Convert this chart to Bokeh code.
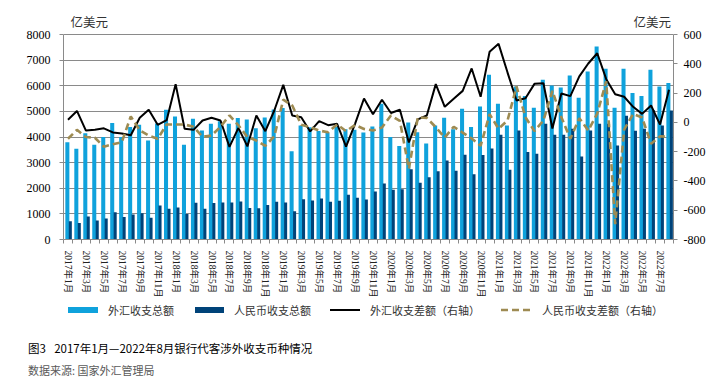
from bokeh.plotting import figure
from bokeh.models import (Range1d, LinearAxis, FixedTicker, Label, ColumnDataSource, Div)
from bokeh.layouts import column
from bokeh.transform import dodge
from bokeh.embed import file_html
from bokeh.resources import INLINE

# ---------------- data ----------------
years = [2017, 2018, 2019, 2020, 2021, 2022]
month_labels = [f"{y}年{m}月" for y in years for m in range(1, 13)][:68]

fx_total = [3800, 3540, 4150, 3700, 4000, 4550, 4000, 4390, 4480, 3860, 4530, 5060,
            4800, 3700, 4710, 4250, 4520, 4610, 4520, 4740, 4680, 4345, 4760, 5070,
            5130, 3440, 4450, 4380, 4230, 4170, 4400, 4300, 4280, 4180, 4410, 5300,
            4000, 3650, 4570, 4190, 3750, 4450, 4750, 4300, 5100, 4390, 5190, 6430,
            5300, 4450, 5970, 5600, 5140, 6230, 6010, 5930, 6400, 5530, 6560, 7530,
            6660, 5140, 6660, 5720, 5600, 6620, 5970, 6110]

rmb_total = [710, 640, 900, 745, 820, 1066, 875, 975, 1025, 848, 1325, 1198,
             1250, 1000, 1432, 1200, 1420, 1440, 1444, 1480, 1230, 1223, 1345, 1475,
             1440, 1100, 1570, 1522, 1600, 1478, 1509, 1750, 1626, 1561, 1873, 2190,
             1938, 1958, 2740, 2218, 2432, 2666, 3083, 2680, 3310, 2550, 3298, 3550,
             4090, 2718, 4254, 3415, 3343, 4520, 4085, 4085, 4320, 3239, 4254, 4514,
             4514, 3668, 4826, 4240, 4320, 5047, 4449, 5034]

fx_balance = [18, 78, -56, -50, -41, -69, -76, -88, 31, 86, -17, 15,
              261, -44, -51, 13, 31, 13, -167, -38, -164, 47, -60, 81,
              256, 47, 35, -62, 8, -19, -10, -165, -10, 163, 55, 154,
              64, 86, -137, 20, 47, 261, 106, 161, 215, 368, 175, 482,
              536, 340, 149, 165, 263, 267, -42, 197, 179, 314, 402, 472,
              295, 192, 175, 106, 58, 115, -15, 222]

rmb_balance = [-112, -51, -100, -105, -166, -150, -135, 40, -54, -90, -112, -15,
               -15, -15, -30, -99, -90, -30, 47, -20, -100, -124, -160, -95,
               155, 115, -16, -33, -56, -68, -14, -60, -18, -45, -56, -35,
               47, 10, -317, 35, 30, -33, -104, -30, -70, -110, -160, 56,
               -44, 13, 245, 35, -60, 13, 215, 35, -112, 28, -56, 60,
               280, -695, -50, 58, 33, -146, -95, -99]

left_ticks = [0, 1000, 2000, 3000, 4000, 5000, 6000, 7000, 8000]
right_ticks = [-800, -600, -400, -200, 0, 200, 400, 600]

series_names = ["外汇收支总额", "人民币收支总额", "外汇收支差额（右轴）", "人民币收支差额（右轴）"]
unit_label = "亿美元"
title_text = "图3\u2002 2017年1月—2022年8月银行代客涉外收支币种情况"
source_text = "数据来源: 国家外汇管理局"

# ---------------- style / layout ----------------
LIGHT = "#0fa2dc"
DARK = "#004379"
OLIVE = "#9e8b52"
GRID = "#8a8a8a"
SERIF = "Liberation Serif, Noto Sans CJK SC"
CJK = "Noto Sans CJK SC"

W, H = 723, 384
FRAME_L, FRAME_R = 63, 673
AXIS_TOP, FRAME_B = 34, 239      # value axes span (page px)
FRAME_T = 10                     # frame extended upward to hold the unit labels
MAIN_H = 303                     # main figure height (frame + x axis)
extra_px = AXIS_TOP - FRAME_T
axis_px = FRAME_B - AXIS_TOP

left_lo, left_hi = left_ticks[0], left_ticks[-1]
right_lo, right_hi = right_ticks[0], right_ticks[-1]
left_end = left_hi + (left_hi - left_lo) / axis_px * extra_px
right_end = right_hi + (right_hi - right_lo) / axis_px * extra_px

N = len(fx_total)
src = ColumnDataSource(dict(x=list(range(N)), fx_total=fx_total, rmb_total=rmb_total,
                            fx_balance=fx_balance, rmb_balance=rmb_balance))

p = figure(width=W, height=MAIN_H, x_range=Range1d(-0.5, N - 0.5),
           y_range=Range1d(left_lo, left_end),
           output_backend="svg", toolbar_location=None,
           min_border_left=FRAME_L, min_border_right=W - FRAME_R,
           min_border_top=FRAME_T, min_border_bottom=MAIN_H - FRAME_B)
p.extra_y_ranges = {"right": Range1d(right_lo, right_end)}
p.outline_line_color = None
p.background_fill_color = "white"
p.border_fill_color = "white"

r_fx = p.vbar(x=dodge("x", -0.07, range=p.x_range), top="fx_total", width=0.45,
              fill_color=LIGHT, line_color=None, source=src)
r_rmb = p.vbar(x=dodge("x", 0.26, range=p.x_range), top="rmb_total", width=0.34,
               fill_color=DARK, line_color=None, source=src)
r_fxb = p.line("x", "fx_balance", y_range_name="right", line_color="black",
               line_width=2, source=src)
r_rmbb = p.line("x", "rmb_balance", y_range_name="right", line_color=OLIVE,
                line_width=2.6, line_dash="7 4", source=src)

# grid
p.xgrid.visible = False
p.ygrid.ticker = FixedTicker(ticks=left_ticks)
p.ygrid.grid_line_color = GRID
p.ygrid.grid_line_width = 1

# left axis
ya = p.yaxis[0]
ya.ticker = FixedTicker(ticks=left_ticks)
ya.bounds = (left_lo, left_hi)
ya.axis_line_color = GRID
ya.major_tick_line_color = GRID
ya.major_tick_out = 4
ya.major_tick_in = 0
ya.minor_tick_line_color = None
ya.major_label_standoff = 9
ya.major_label_text_font = SERIF
ya.major_label_text_font_size = "12px"
ya.major_label_text_color = "black"

# right axis
ra = LinearAxis(y_range_name="right", ticker=FixedTicker(ticks=right_ticks),
                major_label_overrides={t: str(t) for t in right_ticks},
                bounds=(right_lo, right_hi))
ra.axis_line_color = GRID
ra.major_tick_line_color = GRID
ra.major_tick_out = 4
ra.major_tick_in = 0
ra.minor_tick_line_color = None
ra.major_label_standoff = 6
ra.major_label_text_font = SERIF
ra.major_label_text_font_size = "12px"
ra.major_label_text_color = "black"
p.add_layout(ra, "right")

# bottom axis
xa = p.xaxis[0]
xa.ticker = FixedTicker(ticks=list(range(0, N, 2)),
                        minor_ticks=[i - 0.5 for i in range(N + 1)])
xa.major_label_overrides = {i: month_labels[i] for i in range(0, N, 2)}
xa.major_label_orientation = "vertical"
xa.axis_line_color = GRID
xa.major_tick_line_color = None
xa.major_tick_out = 0
xa.major_tick_in = 0
xa.minor_tick_line_color = GRID
xa.minor_tick_out = 4
xa.minor_tick_in = 0
xa.major_label_standoff = 7
xa.major_label_text_font = SERIF
xa.major_label_text_font_size = "9.5px"
xa.major_label_text_color = "#222222"

# unit labels (inside the extended frame, above the value axes)
unit_y = FRAME_B - 21
p.add_layout(Label(x=70 - FRAME_L, y=unit_y, x_units="screen", y_units="screen",
                   text=unit_label, text_font=CJK, text_font_size="12.5px",
                   text_color="#333333", text_baseline="middle"))
p.add_layout(Label(x=633 - FRAME_L, y=unit_y, x_units="screen", y_units="screen",
                   text=unit_label, text_font=CJK, text_font_size="12.5px",
                   text_color="#333333", text_baseline="middle"))

# ---------------- footer: legend, caption, source ----------------
FOOT_H = H - MAIN_H
leg_top = 310 - MAIN_H   # legend centre line inside the footer


def swatch_bar(left, width, color):
    return (f'<span style="position:absolute;left:{left}px;top:{leg_top - 3}px;'
            f'width:{width}px;height:6px;background:{color};"></span>')


def swatch_line(left, width, color, lw, dash=None):
    d = f' stroke-dasharray="{dash}"' if dash else ""
    return (f'<svg style="position:absolute;left:{left}px;top:{leg_top - 3}px;" '
            f'width="{width}" height="6"><line x1="0" y1="3" x2="{width}" y2="3" '
            f'stroke="{color}" stroke-width="{lw}"{d}/></svg>')


def text_at(left, cy, txt, size, color):
    return (f'<span style="position:absolute;left:{left}px;top:{cy - 8}px;'
            f'line-height:16px;font-size:{size}px;color:{color};white-space:nowrap;">'
            f'{txt}</span>')


html = (f'<div style="position:relative;width:{W}px;height:{FOOT_H}px;'
        f'font-family:\'{CJK}\';">'
        + swatch_bar(68, 30, LIGHT) + text_at(108, leg_top, series_names[0], 11, "#333333")
        + swatch_bar(195, 29, DARK) + text_at(234, leg_top, series_names[1], 11, "#333333")
        + swatch_line(330, 30, "black", 2) + text_at(370, leg_top, series_names[2], 11, "#333333")
        + swatch_line(501, 29, OLIVE, 2.6, "7 4") + text_at(542, leg_top, series_names[3], 11, "#333333")
        + text_at(28, 348 - MAIN_H, title_text, 11.5, "#000000")
        + text_at(28, 370 - MAIN_H, source_text, 11, "#595959")
        + '</div>')

foot = Div(text=html, width=W, height=FOOT_H, margin=(0, 0, 0, 0))

open("out.html", "w").write(file_html(column(p, foot, spacing=0), INLINE))
